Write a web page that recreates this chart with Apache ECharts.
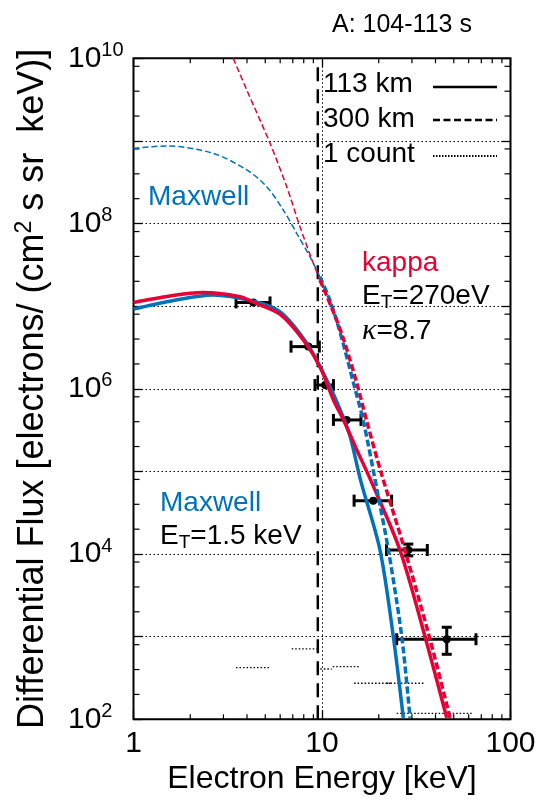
<!doctype html>
<html>
<head>
<meta charset="utf-8">
<title>A: 104-113 s</title>
<script src="https://cdn.jsdelivr.net/npm/echarts@6/dist/echarts.min.js"></script>
<style>
  html, body { margin: 0; padding: 0; background: #fff; }
  #chart { width: 547px; height: 808px; }
</style>
</head>
<body>
<div id="chart"></div>
<script>
// model spectra, [energy keV, flux]
var kappa113 = [[1.0, 1.11e7], [1.56, 1.33e7], [2.34, 1.46e7], [3.67, 1.30e7], [4.31, 1.12e7], [5.98, 8.0e6],
  [7.96, 3.9e6], [9.75, 1.85e6], [11.5, 7.33e5], [13.0, 4.2e5], [15.3, 1.82e5], [18.1, 7.89e4],
  [25.9, 1.12e4], [35.2, 1.0e3], [45.9, 1.04e2]];
var maxwell113 = [[1.0, 9.25e6], [1.56, 1.15e7], [2.64, 1.37e7], [4.32, 1.15e7], [5.98, 8.6e6], [8.3, 3.56e6],
  [10.6, 1.28e6], [12.5, 5.55e5], [14.1, 2.64e5], [16.0, 7.89e4], [20.3, 1.12e4], [23.9, 1.0e3], [27.0, 1.04e2]];
var kappa300 = [[3.38, 1e10], [3.99, 4.13e9], [5.3, 9.35e8], [6.5, 2.79e8], [7.64, 9.16e7], [8.99, 3.3e7],
  [9.75, 2.07e7], [11.5, 8.5e6], [13.0, 4.0e6], [15.3, 1.17e6], [17.3, 4.0e5], [20.5, 1.0e5],
  [27.5, 1.12e4], [37.1, 1.0e3], [47.8, 1.04e2]];
var maxwell300 = [[1.0, 8.15e8], [1.5, 8.69e8], [2.65, 7.08e8], [3.99, 4.45e8], [5.09, 2.79e8], [6.23, 1.46e8],
  [7.34, 7.62e7], [8.63, 3.97e7], [9.75, 2.27e7], [11.0, 1.19e7], [12.5, 4.74e6], [14.7, 1.17e6],
  [16.6, 4.0e5], [19.9, 4.94e4], [22.5, 1.12e4], [26.5, 1.0e3], [29.3, 1.04e2]];
var fitStart = 9.75;       // 300 km curves drawn thin below this
var thresholdEnergy = 9.5; // vertical dashed line

// measured points
var pointEnergy = [4.32, 8.46, 10.4, 13.5, 18.7, 28.7, 45.9];
var pointFlux   = [1.11e7, 3.24e6, 1.11e6, 4.2e5, 4.43e4, 1.12e4, 931];
var energyLow   = [3.5, 6.85, 9.18, 11.5, 14.8, 22.0, 24.9];
var energyHigh  = [5.3, 9.68, 11.5, 16.1, 23.4, 36.2, 65.6];
var fluxLow     = [1.11e7, 3.24e6, 1.11e6, 4.2e5, 4.43e4, 9.5e3, 612];
var fluxHigh    = [1.11e7, 3.24e6, 1.11e6, 4.2e5, 4.43e4, 1.32e4, 1300];

// one-count level per energy bin
var countLow  = [3.5, 6.91, 9.39, 11.4, 14.8, 22.1, 24.9];
var countHigh = [5.3, 9.39, 11.25, 15.7, 23.5, 35.2, 63.1];
var countFlux = [422, 710, 406, 434, 273, 273, 118];

var xMinorMantissa = [2, 3, 4, 5, 6, 7, 8, 9];
var yMinorMantissa = [2, 4, 8];
var yDecades = [1e2, 1e3, 1e4, 1e5, 1e6, 1e7, 1e8, 1e9];

var xMin = 1, xMax = 100, yMin = 1e2, yMax = 1e10;
var BLUE = '#0072bc', RED = '#e60033';
var FONT = '"Liberation Sans", Arial, sans-serif';

var xMinor = [];
[1, 10].forEach(function (d) { xMinorMantissa.forEach(function (m) { xMinor.push([d * m, yMin]); }); });
var yMinor = [];
yDecades.forEach(function (d) { yMinorMantissa.forEach(function (m) { yMinor.push([xMin, d * m]); }); });

var points = pointEnergy.map(function (e, i) {
  return [e, pointFlux[i], energyLow[i], energyHigh[i], fluxLow[i], fluxHigh[i]];
});
var counts = countFlux.map(function (f, i) { return [countLow[i], f, countHigh[i]]; });

function below(d) { return d.filter(function (p) { return p[0] <= fitStart; }); }
function above(d) { return d.filter(function (p) { return p[0] >= fitStart; }); }

function curve(data, color, width, dash) {
  return {
    type: 'line', data: data, showSymbol: false, smooth: 0.3, silent: true,
    lineStyle: { color: color, width: width, type: dash || 'solid' }
  };
}

var chart = echarts.init(document.getElementById('chart'));

var axisCommon = {
  type: 'log', logBase: 10,
  axisLine: { show: false },
  axisTick: { show: true, inside: true, length: 9, lineStyle: { color: '#000', width: 1.3 } },
  splitLine: { show: false }
};

chart.setOption({
  animation: false,
  title: {
    text: 'A: 104-113 s', left: 327, top: 8,
    textStyle: { fontSize: 25, fontWeight: 'normal', color: '#000', fontFamily: FONT }
  },
  grid: { left: 133.5, right: 36.5, top: 58.3, bottom: 88.7, show: true, borderColor: '#000', borderWidth: 2 },
  xAxis: [
    Object.assign({}, axisCommon, {
      min: xMin, max: xMax, position: 'bottom',
      name: 'Electron Energy [keV]', nameLocation: 'middle', nameGap: 42,
      nameTextStyle: { fontSize: 32, color: '#000', fontFamily: FONT },
      axisLabel: { fontSize: 30, color: '#000', margin: 9, fontFamily: FONT,
        formatter: function (v) { return String(Math.round(v)); } },
      splitLine: { show: true, lineStyle: { color: '#000', width: 1, type: [1.5, 2.5] } }
    }),
    Object.assign({}, axisCommon, { min: xMin, max: xMax, position: 'top', axisLabel: { show: false } })
  ],
  yAxis: [
    Object.assign({}, axisCommon, {
      min: yMin, max: yMax, splitNumber: 8, position: 'left',
      name: '{n|Differential Flux [electrons/ (cm}{s|2}{n| s sr  keV)]}',
      nameLocation: 'middle', nameGap: 80,
      nameTextStyle: {
        color: '#000',
        rich: {
          n: { fontSize: 36, fontFamily: FONT, color: '#000', lineHeight: 40 },
          s: { fontSize: 23, fontFamily: FONT, color: '#000', lineHeight: 14, verticalAlign: 'top' }
        }
      },
      axisLabel: {
        margin: 65.5, align: 'left', color: '#000',
        formatter: function (v) {
          var e = Math.round(Math.log10(v));
          return e % 2 === 0 ? '{b|10}{e|' + e + '}' : '';
        },
        rich: {
          b: { fontSize: 30, lineHeight: 36, fontFamily: FONT, color: '#000' },
          e: { fontSize: 20, lineHeight: 10, verticalAlign: 'top', fontFamily: FONT, color: '#000' }
        }
      },
      splitLine: { show: true, lineStyle: { color: '#000', width: 1, type: [1.5, 2.5] } }
    }),
    Object.assign({}, axisCommon, { min: yMin, max: yMax, splitNumber: 8, position: 'right', axisLabel: { show: false } })
  ],
  graphic: [
    { type: 'text', x: 148, y: 197, style: { text: 'Maxwell', fill: BLUE, font: '28px ' + FONT, verticalAlign: 'middle' } },
    { type: 'text', x: 362, y: 263, style: { text: 'kappa', fill: RED, font: '28px ' + FONT, verticalAlign: 'middle' } },
    { type: 'text', x: 362, y: 296, style: {
        text: '{a|E}{t|T}{a|=270eV}', verticalAlign: 'middle',
        rich: { a: { fontSize: 28, lineHeight: 32, fontFamily: FONT, fill: '#000' },
                t: { fontSize: 19, lineHeight: 26, verticalAlign: 'bottom', fontFamily: FONT, fill: '#000' } } } },
    { type: 'text', x: 362, y: 331, style: {
        text: '{k|\u03ba}{a|=8.7}', verticalAlign: 'middle',
        rich: { k: { fontSize: 30, lineHeight: 32, fontFamily: '"Liberation Serif", serif', fontStyle: 'italic', fill: '#000' },
                a: { fontSize: 28, lineHeight: 32, fontFamily: FONT, fill: '#000' } } } },
    { type: 'text', x: 160, y: 503, style: { text: 'Maxwell', fill: BLUE, font: '28px ' + FONT, verticalAlign: 'middle' } },
    { type: 'text', x: 160, y: 536, style: {
        text: '{a|E}{t|T}{a|=1.5 keV}', verticalAlign: 'middle',
        rich: { a: { fontSize: 28, lineHeight: 32, fontFamily: FONT, fill: '#000' },
                t: { fontSize: 19, lineHeight: 26, verticalAlign: 'bottom', fontFamily: FONT, fill: '#000' } } } },
    // key
    { type: 'text', x: 323, y: 84, style: { text: '113 km', fill: '#000', font: '28px ' + FONT, verticalAlign: 'middle' } },
    { type: 'text', x: 323, y: 119, style: { text: '300 km', fill: '#000', font: '28px ' + FONT, verticalAlign: 'middle' } },
    { type: 'text', x: 323, y: 154, style: { text: '1 count', fill: '#000', font: '28px ' + FONT, verticalAlign: 'middle' } },
    { type: 'line', shape: { x1: 433, y1: 87, x2: 497, y2: 87 }, style: { stroke: '#000', lineWidth: 2.5 } },
    { type: 'line', shape: { x1: 433, y1: 120, x2: 497, y2: 120 }, style: { stroke: '#000', lineWidth: 2.5, lineDash: [7, 3.5] } },
    { type: 'line', shape: { x1: 433, y1: 156, x2: 497, y2: 156 }, style: { stroke: '#000', lineWidth: 2, lineDash: [1.5, 1.5] } }
  ],
  series: [
    {
      type: 'custom', silent: true, data: xMinor, encode: { x: 0, y: 1 }, clip: false,
      renderItem: function (params, api) {
        var b = api.coord([api.value(0), yMin]), t = api.coord([api.value(0), yMax]);
        var st = { stroke: '#000', lineWidth: 1.2 };
        return { type: 'group', children: [
          { type: 'line', shape: { x1: b[0], y1: b[1], x2: b[0], y2: b[1] - 5 }, style: st },
          { type: 'line', shape: { x1: t[0], y1: t[1], x2: t[0], y2: t[1] + 5 }, style: st }
        ] };
      }
    },
    {
      type: 'custom', silent: true, data: yMinor, encode: { x: 0, y: 1 }, clip: false,
      renderItem: function (params, api) {
        var l = api.coord([xMin, api.value(1)]), r = api.coord([xMax, api.value(1)]);
        var st = { stroke: '#000', lineWidth: 1.2 };
        return { type: 'group', children: [
          { type: 'line', shape: { x1: l[0], y1: l[1], x2: l[0] + 6, y2: l[1] }, style: st },
          { type: 'line', shape: { x1: r[0], y1: r[1], x2: r[0] - 6, y2: r[1] }, style: st }
        ] };
      }
    },
    {
      type: 'custom', silent: true, data: counts, encode: { x: [0, 2], y: 1 },
      renderItem: function (params, api) {
        var a = api.coord([api.value(0), api.value(1)]), b = api.coord([api.value(2), api.value(1)]);
        return { type: 'line', shape: { x1: a[0], y1: a[1], x2: b[0], y2: b[1] },
          style: { stroke: '#000', lineWidth: 1.3, lineDash: [1.5, 2] } };
      }
    },
    {
      type: 'line', silent: true, showSymbol: false,
      data: [[thresholdEnergy, yMin], [thresholdEnergy, yMax]],
      lineStyle: { color: '#000', width: 2.5, type: [14, 8] }
    },
    curve(maxwell113, BLUE, 3.5),
    curve(kappa113, RED, 3.5),
    curve(below(maxwell300), BLUE, 1.5, [6, 3]),
    curve(below(kappa300), RED, 1.5, [6, 3]),
    curve(above(maxwell300), BLUE, 3.5, [7, 3]),
    curve(above(kappa300), RED, 3.5, [7, 3]),
    {
      type: 'custom', silent: true, data: points, encode: { x: [0, 2, 3], y: [1, 4, 5] },
      renderItem: function (params, api) {
        var x = api.value(0), y = api.value(1);
        var c = api.coord([x, y]);
        var l = api.coord([api.value(2), y]), h = api.coord([api.value(3), y]);
        var st = { stroke: '#000', lineWidth: 3 };
        var kids = [
          { type: 'line', shape: { x1: l[0], y1: l[1], x2: h[0], y2: h[1] }, style: st },
          { type: 'line', shape: { x1: l[0], y1: l[1] - 6, x2: l[0], y2: l[1] + 6 }, style: st },
          { type: 'line', shape: { x1: h[0], y1: h[1] - 6, x2: h[0], y2: h[1] + 6 }, style: st },
          { type: 'circle', shape: { cx: c[0], cy: c[1], r: 4 }, style: { fill: '#000' } }
        ];
        if (api.value(4) < api.value(5)) {
          var lo = api.coord([x, api.value(4)]), hi = api.coord([x, api.value(5)]);
          kids.push({ type: 'line', shape: { x1: lo[0], y1: lo[1], x2: hi[0], y2: hi[1] }, style: st });
          kids.push({ type: 'line', shape: { x1: lo[0] - 5, y1: lo[1], x2: lo[0] + 5, y2: lo[1] }, style: st });
          kids.push({ type: 'line', shape: { x1: hi[0] - 5, y1: hi[1], x2: hi[0] + 5, y2: hi[1] }, style: st });
        }
        return { type: 'group', children: kids };
      }
    }
  ]
});
</script>
</body>
</html>
